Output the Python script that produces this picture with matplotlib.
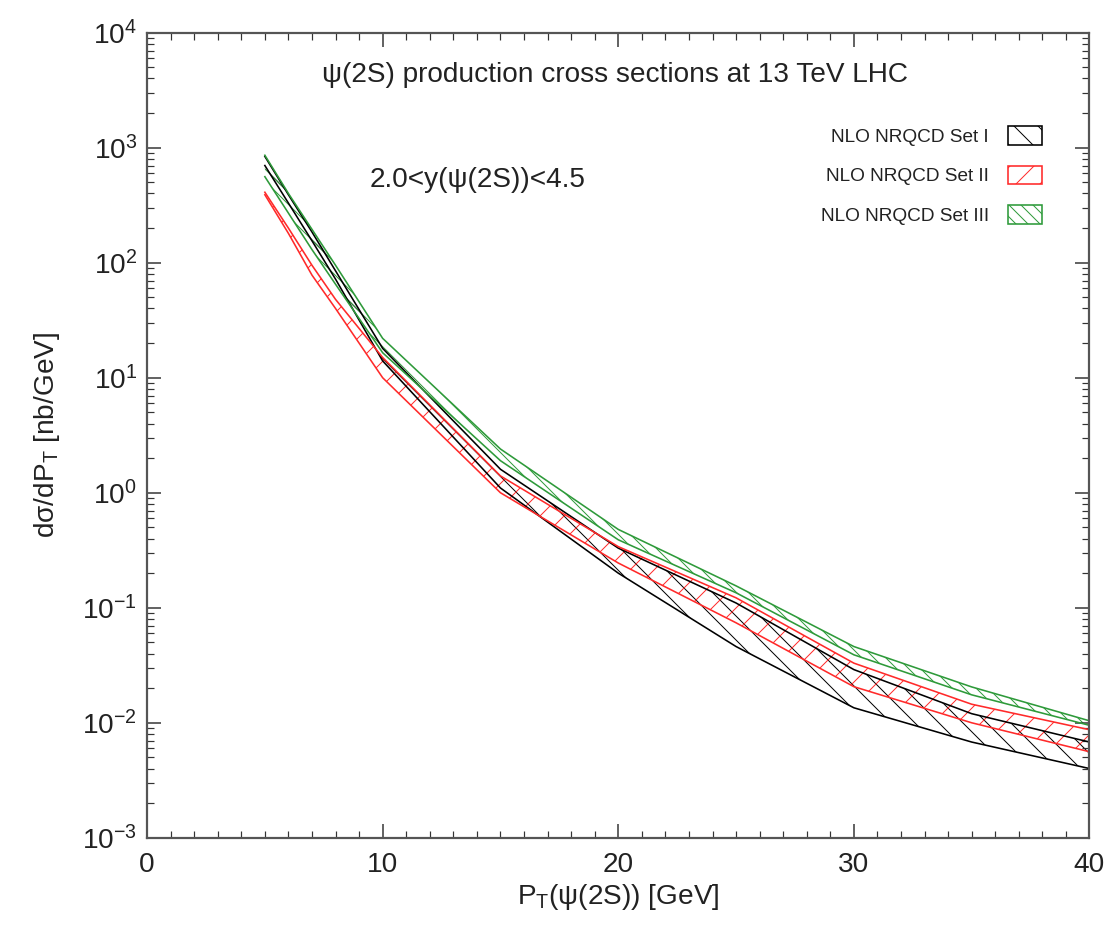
import matplotlib
matplotlib.use('Agg')
import matplotlib.pyplot as plt
from matplotlib.patches import Patch
from matplotlib.ticker import MultipleLocator, LogLocator, LogFormatterMathtext, NullFormatter

# dpi 72 -> 1 pt == 1 px, and hatch spacing is closer to the original
plt.rcParams['font.family'] = ['Liberation Sans', 'DejaVu Sans']
plt.rcParams['mathtext.default'] = 'regular'
plt.rcParams['hatch.linewidth'] = 1.0

# pT grid (GeV)
pt = [5, 6, 7, 8, 10, 15, 20, 25, 30, 35, 40]

# NLO NRQCD Set I (black band)
set1_hi = [840, 390, 185, 85, 18, 1.6, 0.33, 0.11, 0.029, 0.012, 0.0068]
set1_lo = [700, 330, 155, 72, 14, 1.1, 0.20, 0.046, 0.0135, 0.0068, 0.0040]

# NLO NRQCD Set II (red band)
set2_hi = [410, 200, 95, 48, 15, 1.4, 0.34, 0.122, 0.033, 0.0145, 0.0087]
set2_lo = [390, 180, 78, 40, 10, 1.0, 0.245, 0.074, 0.0206, 0.010, 0.0056]

# NLO NRQCD Set III (green band)
set3_hi = [860, 400, 195, 95, 22, 2.4, 0.48, 0.155, 0.046, 0.0205, 0.0104]
set3_lo = [560, 270, 130, 65, 16.5, 1.9, 0.39, 0.135, 0.039, 0.0175, 0.0095]

labels = ['NLO NRQCD Set I', 'NLO NRQCD Set II', 'NLO NRQCD Set III']
colors = ['#000000', '#ff2a2a', '#2e9a3a']
hatches = ['\\', '/', '\\\\']

fig = plt.figure(figsize=(1114 / 72, 934 / 72), dpi=72)
ax = fig.add_axes([0.132, 0.103, 0.846, 0.862])

bands = [(set1_lo, set1_hi), (set2_lo, set2_hi), (set3_lo, set3_hi)]
for (lo, hi), c, h in zip(bands, colors, hatches):
    ax.fill_between(pt, lo, hi, facecolor='none', edgecolor=c, hatch=h, linewidth=0)
    ax.plot(pt, lo, color=c, lw=1.6)
    ax.plot(pt, hi, color=c, lw=1.6)

ax.set_yscale('log')
ax.set_xlim(0, 40)
ax.set_ylim(1e-3, 1e4)

ax.xaxis.set_major_locator(MultipleLocator(10))
ax.xaxis.set_minor_locator(MultipleLocator(1))
ax.yaxis.set_major_locator(LogLocator(base=10, numticks=20))
ax.yaxis.set_minor_locator(LogLocator(base=10, subs=range(2, 10), numticks=100))
ax.yaxis.set_major_formatter(LogFormatterMathtext())
ax.yaxis.set_minor_formatter(NullFormatter())

ax.tick_params(which='both', direction='in', top=True, right=True, colors='#333333',
               labelcolor='#222222', labelsize=28)
ax.tick_params(which='major', length=14, width=1.5)
ax.tick_params(which='minor', length=7, width=1.2)
ax.tick_params(axis='x', which='major', pad=14)
ax.tick_params(axis='y', which='major', pad=10)
for s in ax.spines.values():
    s.set_color('#555555')
    s.set_linewidth(2.2)

ax.set_xlabel('P$_T$(\u03c8(2S)) [GeV]', fontsize=28, color='#222222', labelpad=4)
ax.set_ylabel('d\u03c3/dP$_T$ [nb/GeV]', fontsize=28, color='#222222', labelpad=20)

ax.text(0.496, 0.948, '\u03c8(2S) production cross sections at 13 TeV LHC',
        transform=ax.transAxes, ha='center', va='center', fontsize=28, color='#222222')
ax.text(0.236, 0.817, '2.0<y(\u03c8(2S))<4.5',
        transform=ax.transAxes, ha='left', va='center', fontsize=28, color='#222222')

handles = [Patch(facecolor='none', edgecolor=c, hatch=h, linewidth=1.6)
           for c, h in zip(colors, hatches)]
ax.legend(handles, labels, loc='upper right', bbox_to_anchor=(0.968, 0.905),
          frameon=False, markerfirst=False, fontsize=19, handlelength=1.8,
          handleheight=1.1, labelspacing=1.05, handletextpad=1.0,
          labelcolor='#222222')

fig.savefig('out.png', dpi=72)
